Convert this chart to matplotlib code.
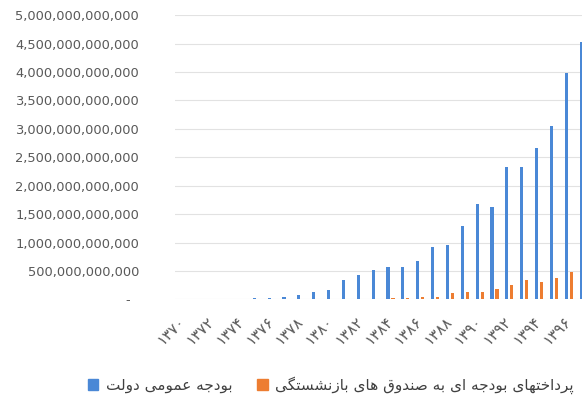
import numpy as np
import matplotlib.pyplot as plt
from matplotlib.ticker import FuncFormatter
from matplotlib.patches import Patch

years = list(range(1370, 1398))
budget_bn = [5, 7, 10, 13, 17, 22, 30, 50, 79, 137, 167, 343, 430, 518,
             575, 575, 670, 925, 955, 1300, 1670, 1625, 2330, 2330, 2655,
             3045, 3985, 4530]
pension_bn = [1, 1, 1, 2, 2, 3, 3, 4, 5, 6, 8, 10, 12, 15,
              20, 25, 35, 40, 115, 130, 125, 190, 255, 343, 313,
              385, 480, 560]
label_budget = 'بودجه عمومی دولت'
label_pension = 'پرداختهای بودجه ای به صندوق های بازنشستگی'

# presentation forms: isolated, final, initial, medial
FORMS = {
    'ا': ('\uFE8D', '\uFE8E', None, None),
    'ب': ('\uFE8F', '\uFE90', '\uFE91', '\uFE92'),
    'پ': ('\uFB56', '\uFB57', '\uFB58', '\uFB59'),
    'ت': ('\uFE95', '\uFE96', '\uFE97', '\uFE98'),
    'ج': ('\uFE9D', '\uFE9E', '\uFE9F', '\uFEA0'),
    'خ': ('\uFEA5', '\uFEA6', '\uFEA7', '\uFEA8'),
    'د': ('\uFEA9', '\uFEAA', None, None),
    'ر': ('\uFEAD', '\uFEAE', None, None),
    'ز': ('\uFEAF', '\uFEB0', None, None),
    'س': ('\uFEB1', '\uFEB2', '\uFEB3', '\uFEB4'),
    'ش': ('\uFEB5', '\uFEB6', '\uFEB7', '\uFEB8'),
    'ص': ('\uFEB9', '\uFEBA', '\uFEBB', '\uFEBC'),
    'ع': ('\uFEC9', '\uFECA', '\uFECB', '\uFECC'),
    'ق': ('\uFED5', '\uFED6', '\uFED7', '\uFED8'),
    'گ': ('\uFB92', '\uFB93', '\uFB94', '\uFB95'),
    'ل': ('\uFEDD', '\uFEDE', '\uFEDF', '\uFEE0'),
    'م': ('\uFEE1', '\uFEE2', '\uFEE3', '\uFEE4'),
    'ن': ('\uFEE5', '\uFEE6', '\uFEE7', '\uFEE8'),
    'ه': ('\uFEE9', '\uFEEA', '\uFEEB', '\uFEEC'),
    'و': ('\uFEED', '\uFEEE', None, None),
    'ی': ('\uFBFC', '\uFBFD', '\uFBFE', '\uFBFF'),
}


def shape(text):
    """Join Persian letters and put them in visual (right-to-left) order."""
    out = []
    for i, ch in enumerate(text):
        if ch not in FORMS:
            out.append(ch)
            continue
        f = FORMS[ch]
        prev = text[i - 1] if i > 0 else ''
        nxt = text[i + 1] if i < len(text) - 1 else ''
        join_prev = prev in FORMS and FORMS[prev][2] is not None
        join_next = f[2] is not None and nxt in FORMS
        if join_prev and join_next:
            out.append(f[3])
        elif join_prev:
            out.append(f[1])
        elif join_next:
            out.append(f[2])
        else:
            out.append(f[0])
    return ''.join(reversed(out))


def fa_digits(s):
    return s.translate(str.maketrans('0123456789', '۰۱۲۳۴۵۶۷۸۹'))


plt.rcParams['font.family'] = ['DejaVu Sans']
fig = plt.figure(figsize=(5.82, 4.08), dpi=100)
ax = fig.add_axes([0.301, 0.266, 0.7145, 0.697])

x = np.arange(len(years))
budget = np.array(budget_bn) * 1e9
pension = np.array(pension_bn) * 1e9
b1 = ax.bar(x - 0.17, budget, width=0.21, color='#4a88d6', zorder=3)
b2 = ax.bar(x + 0.17, pension, width=0.21, color='#ed7d31', zorder=3)

ax.set_xlim(-0.5, len(years) - 0.5)
ax.set_ylim(0, 5e12)
ax.set_yticks(np.arange(0, 5.01e12, 5e11))
ax.yaxis.set_major_formatter(FuncFormatter(
    lambda v, p: '-  ' if v == 0 else f'{int(round(v)):,}'))
ax.grid(axis='y', color='#e2e2e2', lw=0.8, zorder=0)
for s in ax.spines.values():
    s.set_visible(False)
ax.tick_params(axis='y', length=0, pad=26, labelsize=9.4, labelcolor='#595959')

ticks = x[::2]
ax.set_xticks(ticks)
ax.set_xticklabels([fa_digits(str(y)) for y in years[::2]], rotation=45,
                   ha='right', va='center', rotation_mode='anchor',
                   fontsize=11, color='#595959')
ax.tick_params(axis='x', length=0, pad=14)

handles = [Patch(color='#4a88d6'), Patch(color='#ed7d31')]
ax.legend(handles, [shape(label_budget), shape(label_pension)], ncol=2,
          loc='center left', bbox_to_anchor=(0.127, 0.055),
          bbox_transform=fig.transFigure, frameon=False, fontsize=11,
          handlelength=0.7, handleheight=0.7, handletextpad=0.5,
          columnspacing=1.6, labelcolor='#404040')

fig.savefig('out.png', dpi=100)
